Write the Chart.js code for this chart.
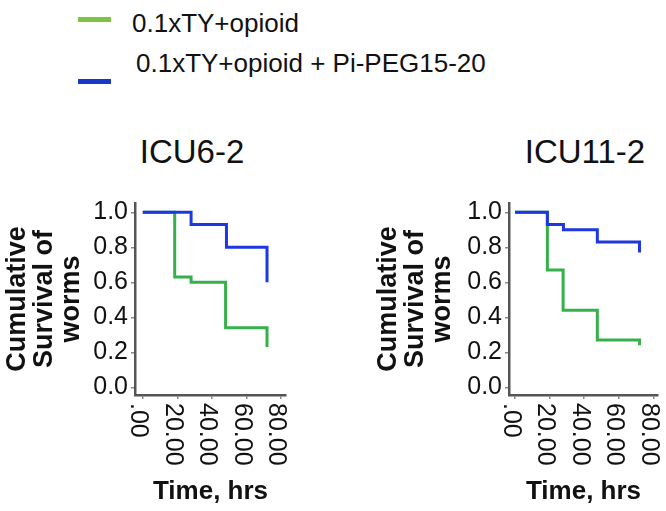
<!DOCTYPE html>
<html>
<head>
<meta charset="utf-8">
<script src="https://cdn.jsdelivr.net/npm/chart.js@4.4.0/dist/chart.umd.min.js"></script>
<style>
  body { margin:0; width:666px; height:511px; background:#fff; overflow:hidden; position:relative;
         font-family:"Liberation Sans", Arial, sans-serif; color:#111; }
  .box { position:absolute; }
  .key { position:absolute; left:78px; width:33px; height:5px; }
  .lbl { position:absolute; font-size:26px; line-height:26px; white-space:nowrap; }
  .ttl { position:absolute; width:200px; text-align:center; font-size:33px; line-height:33px; }
</style>
</head>
<body>
<div id="legend"></div>
<div class="ttl" id="t1" style="left:92px;top:135px"></div>
<div class="ttl" id="t2" style="left:485px;top:135px"></div>
<div class="box" style="left:0;top:170px;width:300px;height:341px"><canvas id="c1"></canvas></div>
<div class="box" style="left:371px;top:170px;width:295px;height:341px"><canvas id="c2"></canvas></div>
<script>
// series names and panels
const seriesNames = ['0.1xTY+opioid', '0.1xTY+opioid + Pi-PEG15-20'];
const legendColors = ['rgb(125,195,70)', 'rgb(25,55,200)'];
const lineColors = ['rgb(55,175,75)', 'rgb(30,55,225)'];
const panelTitles = ['ICU6-2', 'ICU11-2'];

// axis ticks
const xTickValues = [0, 20, 40, 60, 80];
const xTickLabels = ['.00', '20.00', '40.00', '60.00', '80.00'];
const yTickValues = [0, 0.2, 0.4, 0.6, 0.8, 1.0];

// ICU6-2 survival steps (time in hrs, cumulative survival)
const icu6OpioidTime = [0, 18.5, 28, 48, 72];
const icu6OpioidSurv = [1, 0.63, 0.60, 0.34, 0.23];
const icu6PegTime = [0, 28, 48.5, 72];
const icu6PegSurv = [1, 0.93, 0.80, 0.60];

// ICU11-2 survival steps
const icu11OpioidTime = [0, 18.7, 27.8, 47.6, 72];
const icu11OpioidSurv = [1, 0.67, 0.44, 0.27, 0.24];
const icu11PegTime = [0, 18.7, 28, 47.6, 72];
const icu11PegSurv = [1, 0.93, 0.90, 0.83, 0.77];

const FAMILY = '"Liberation Sans", Arial, sans-serif';

// legend + titles as html
let lg = '';
seriesNames.forEach((n, i) => {
  lg += '<div class="key" style="top:' + (17 + i * 62) + 'px;background:' + legendColors[i] + '"></div>';
  lg += '<div class="lbl" style="left:' + (132 + i * 4) + 'px;top:' + (10 + i * 40) + 'px">' + n + '</div>';
});
document.getElementById('legend').innerHTML = lg;
document.getElementById('t1').textContent = panelTitles[0];
document.getElementById('t2').textContent = panelTitles[1];

function pts(t, s) {
  return t.map((v, i) => ({ x: v, y: s[i] }));
}

// x labels read top to bottom, so draw them turned clockwise
const xLabelPlugin = {
  id: 'xLabels',
  afterDraw(chart) {
    const ctx = chart.ctx;
    const sx = chart.scales.x;
    const top = chart.chartArea.bottom + 8;
    ctx.save();
    ctx.font = '25px ' + FAMILY;
    ctx.fillStyle = '#111';
    ctx.textAlign = 'left';
    ctx.textBaseline = 'middle';
    xTickValues.forEach((v, i) => {
      ctx.save();
      ctx.translate(sx.getPixelForValue(v), top);
      ctx.rotate(Math.PI / 2);
      ctx.fillText(xTickLabels[i], 0, 4.5);
      ctx.restore();
    });
    ctx.restore();
  }
};

function makeChart(id, opioid, peg, xmin, xmax, yWidth, padRight) {
  const ctx = document.getElementById(id).getContext('2d');
  return new Chart(ctx, {
    type: 'line',
    data: {
      datasets: [
        {
          label: seriesNames[1],
          data: peg,
          borderColor: lineColors[1],
          borderWidth: 3,
          stepped: true,
          pointRadius: 0,
          fill: false
        },
        {
          label: seriesNames[0],
          data: opioid,
          borderColor: lineColors[0],
          borderWidth: 3,
          stepped: true,
          pointRadius: 0,
          fill: false
        }
      ]
    },
    options: {
      responsive: true,
      maintainAspectRatio: false,
      animation: false,
      layout: { padding: { top: 33, right: padRight, bottom: 0, left: 0 } },
      plugins: { legend: { display: false }, tooltip: { enabled: false } },
      scales: {
        x: {
          type: 'linear',
          min: xmin,
          max: xmax,
          afterBuildTicks: s => { s.ticks = xTickValues.map(v => ({ value: v })); },
          afterFit: s => { s.height = 116; },
          border: { display: true, color: '#555', width: 2.5 },
          grid: { display: true, drawOnChartArea: false, drawTicks: true, tickLength: 4, color: '#888', lineWidth: 1.5 },
          ticks: { display: false },
          title: {
            display: true,
            text: 'Time, hrs',
            color: '#111',
            font: { size: 26, weight: 'bold', family: FAMILY },
            padding: { top: 0, bottom: 4 }
          }
        },
        y: {
          min: -0.044,
          max: 1.053,
          afterBuildTicks: s => { s.ticks = yTickValues.map(v => ({ value: v })); },
          afterFit: s => { s.width = yWidth; },
          border: { display: true, color: '#555', width: 2.5 },
          grid: { display: true, drawOnChartArea: false, drawTicks: true, tickLength: 4, color: '#888', lineWidth: 1.5 },
          ticks: {
            color: '#111',
            padding: 3,
            font: { size: 25, family: FAMILY },
            callback: v => Number(v).toFixed(1)
          },
          title: {
            display: true,
            text: ['Cumulative', 'Survival of', 'worms'],
            color: '#111',
            font: { size: 27, weight: 'bold', family: FAMILY, lineHeight: 0.99 },
            padding: { top: 4.3, bottom: 0 }
          }
        }
      }
    },
    plugins: [xLabelPlugin]
  });
}

makeChart('c1', pts(icu6OpioidTime, icu6OpioidSurv), pts(icu6PegTime, icu6PegSurv), -4.5, 83, 135, 14);
makeChart('c2', pts(icu11OpioidTime, icu11OpioidSurv), pts(icu11PegTime, icu11PegSurv), -3.5, 82.7, 138, 8);
</script>
</body>
</html>
